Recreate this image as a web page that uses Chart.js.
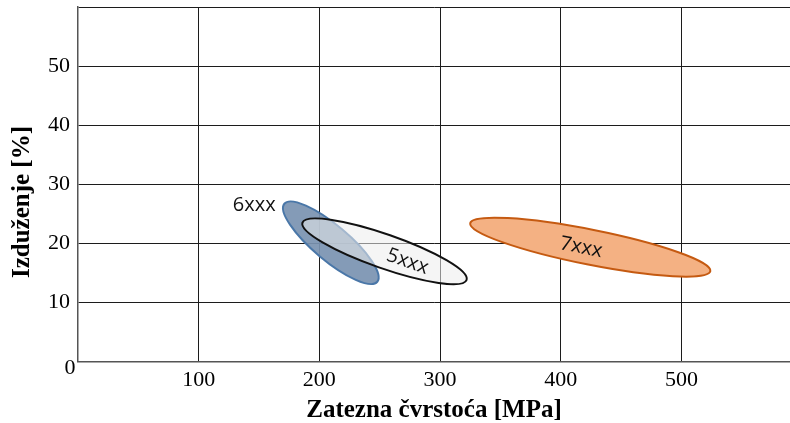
<!DOCTYPE html>
<html>
<head>
<meta charset="utf-8">
<script src="https://cdn.jsdelivr.net/npm/chart.js@4.4.0/dist/chart.umd.min.js"></script>
<style>
  html, body { margin: 0; padding: 0; background: #fff; }
  #wrap { width: 790px; height: 423px; }
</style>
</head>
<body>
<div id="wrap"><canvas id="chart"></canvas></div>
<script>
const families = ['6xxx', '5xxx', '7xxx'];
// ends of the long axis of each family's ellipse (strength MPa, elongation %)
const strengthFrom = [171, 186, 325];
const strengthTo = [248, 322, 524];
const elongFrom = [26.7, 23.5, 23.4];
const elongTo = [13.5, 13.8, 15.3];
// where the family names sit
const labelStrength = [146, 273, 417];
const labelElong = [26.4, 16.9, 19.3];
const xTicks = [100, 200, 300, 400, 500];
const yTicks = [10, 20, 30, 40, 50, 60];

const fills = ['rgba(122,146,177,0.92)', 'rgba(236,236,236,0.55)', '#f4b183'];
const strokes = ['#4a77a8', '#111111', '#c55a11'];
const halfWidths = [17.5, 17, 17.5];
const tilted = [false, true, true];

const serif = '"Liberation Serif", "Times New Roman", serif';

const ellipses = {
    id: 'ellipses',
    afterDatasetsDraw(chart) {
        const { ctx, scales: { x, y } } = chart;
        chart.data.datasets.forEach((ds, i) => {
            const [p1, p2] = chart.getDatasetMeta(i).data;
            const cx = (p1.x + p2.x) / 2;
            const cy = (p1.y + p2.y) / 2;
            const ang = Math.atan2(p2.y - p1.y, p2.x - p1.x);
            const rx = Math.hypot(p2.x - p1.x, p2.y - p1.y) / 2;
            ctx.save();
            ctx.beginPath();
            ctx.ellipse(cx, cy, rx, halfWidths[i], ang, 0, Math.PI * 2);
            ctx.fillStyle = fills[i];
            ctx.fill();
            ctx.lineWidth = 2;
            ctx.strokeStyle = strokes[i];
            ctx.stroke();

            ctx.translate(x.getPixelForValue(labelStrength[i]), y.getPixelForValue(labelElong[i]));
            if (tilted[i]) ctx.rotate(ang);
            ctx.font = '20px "Open Sans", sans-serif';
            ctx.fillStyle = '#111';
            ctx.textAlign = 'center';
            ctx.textBaseline = 'middle';
            ctx.fillText(families[i], 0, 0);
            ctx.restore();
        });
    }
};

// origin label and y title sit where the scale options can't put them
const extras = {
    id: 'extras',
    afterDraw(chart) {
        const { ctx, chartArea } = chart;
        ctx.save();
        ctx.fillStyle = '#000';
        ctx.font = '22px ' + serif;
        ctx.textAlign = 'center';
        ctx.textBaseline = 'middle';
        ctx.fillText('0', chartArea.left - 8, chartArea.bottom + 7);

        ctx.translate(23, 202);
        ctx.rotate(-Math.PI / 2);
        ctx.font = 'bold 25px ' + serif;
        ctx.fillText('Izduženje [%]', 0, 0);
        ctx.restore();
    }
};

new Chart(document.getElementById('chart'), {
    type: 'scatter',
    data: {
        datasets: families.map((f, i) => ({
            label: f,
            data: [
                { x: strengthFrom[i], y: elongFrom[i] },
                { x: strengthTo[i], y: elongTo[i] }
            ],
            pointRadius: 0,
            pointHoverRadius: 0
        }))
    },
    options: {
        responsive: true,
        maintainAspectRatio: false,
        animation: false,
        layout: { padding: { top: 7, right: 0, left: 0, bottom: 0 } },
        plugins: {
            legend: { display: false },
            tooltip: { enabled: false }
        },
        scales: {
            x: {
                type: 'linear',
                min: 0,
                max: 590,
                afterBuildTicks: s => { s.ticks = xTicks.map(v => ({ value: v })); },
                afterFit: s => { s.height = 61.5; s.paddingLeft = 0; s.paddingRight = 0; },
                grid: { color: '#1c1c1c', lineWidth: 1, drawTicks: false },
                border: { color: '#555', width: 1.5 },
                ticks: {
                    color: '#000',
                    padding: 6,
                    font: { family: serif, size: 22 }
                },
                title: {
                    display: true,
                    text: 'Zatezna čvrstoća [MPa]',
                    color: '#000',
                    padding: { top: 0, bottom: 0 },
                    font: { family: serif, size: 25, weight: 'bold', lineHeight: 1 }
                }
            },
            y: {
                type: 'linear',
                min: 0,
                max: 60,
                afterBuildTicks: s => { s.ticks = yTicks.map(v => ({ value: v })); },
                afterFit: s => { s.width = 78; s.paddingTop = 0; s.paddingBottom = 0; },
                grid: { color: '#1c1c1c', lineWidth: 1, drawTicks: false },
                border: { color: '#555', width: 1.5 },
                ticks: {
                    color: '#000',
                    padding: 8,
                    font: { family: serif, size: 22 },
                    callback: v => v === 60 ? '' : v
                }
            }
        }
    },
    plugins: [ellipses, extras]
});
</script>
</body>
</html>
